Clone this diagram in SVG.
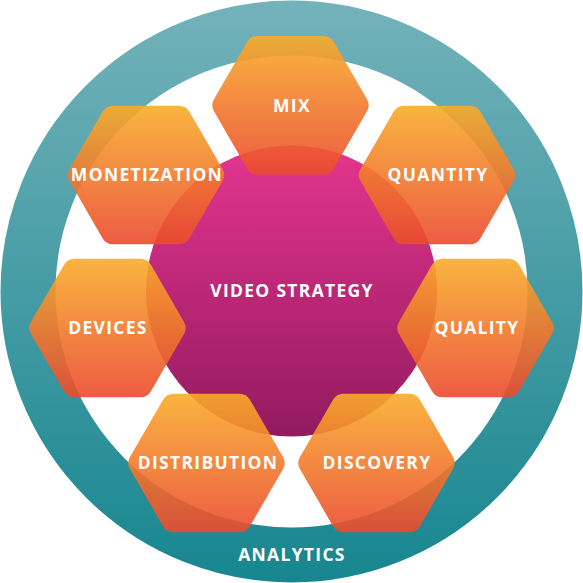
<svg xmlns="http://www.w3.org/2000/svg" xmlns:xlink="http://www.w3.org/1999/xlink" width="583" height="583" viewBox="0 0 583 583">
<defs>
<linearGradient id="ringG" gradientUnits="userSpaceOnUse" x1="0" y1="0" x2="0" y2="583">
<stop offset="0" stop-color="#74B2BA"/>
<stop offset="1" stop-color="#17868F"/>
</linearGradient>
<linearGradient id="coreG" x1="0" y1="0" x2="0" y2="1">
<stop offset="0" stop-color="#E4358F"/>
<stop offset="1" stop-color="#931A5E"/>
</linearGradient>
<linearGradient id="hexG" x1="0" y1="0" x2="0" y2="1">
<stop offset="0" stop-color="#F9AC2A"/>
<stop offset="1" stop-color="#EB4A2F"/>
</linearGradient>
<path id="hex" d="M-33.07,-69.28 H33.07 A12,12 0 0 1 43.46,-63.28 L76.54,-6 A12,12 0 0 1 76.54,6 L43.46,63.28 A12,12 0 0 1 33.07,69.28 H-33.07 A12,12 0 0 1 -43.46,63.28 L-76.54,6 A12,12 0 0 1 -76.54,-6 L-43.46,-63.28 A12,12 0 0 1 -33.07,-69.28 Z"/>
</defs>
<style>
.hex{fill:url(#hexG);opacity:0.9}
.lbl{font-family:"Open Sans","Liberation Sans",sans-serif;font-weight:700;font-size:17.5px;fill:#FFFFFF;text-anchor:middle;letter-spacing:1.3px}
</style>
<g id="analytics">
<circle cx="291.5" cy="291.5" r="263.5" fill="none" stroke="url(#ringG)" stroke-width="55"/>
<text class="lbl" x="292" y="561">ANALYTICS</text>
</g>
<g id="video-strategy">
<circle cx="291.5" cy="291" r="145.5" fill="url(#coreG)"/>
<text class="lbl" x="292" y="297">VIDEO STRATEGY</text>
</g>
<g id="mix"><use xlink:href="#hex" class="hex" x="290.5" y="105.3"/><text class="lbl" x="292" y="111.5">MIX</text></g>
<g id="quantity"><use xlink:href="#hex" class="hex" x="437" y="175"/><text class="lbl" x="438" y="181">QUANTITY</text></g>
<g id="quality"><use xlink:href="#hex" class="hex" x="475.5" y="328"/><text class="lbl" x="477" y="334">QUALITY</text></g>
<g id="discovery"><use xlink:href="#hex" class="hex" x="376.5" y="463"/><text class="lbl" x="377" y="469">DISCOVERY</text></g>
<g id="distribution"><use xlink:href="#hex" class="hex" x="206.5" y="463"/><text class="lbl" x="208" y="469">DISTRIBUTION</text></g>
<g id="devices"><use xlink:href="#hex" class="hex" x="107.5" y="328"/><text class="lbl" x="108" y="334">DEVICES</text></g>
<g id="monetization"><use xlink:href="#hex" class="hex" x="146" y="175"/><text class="lbl" x="147" y="181">MONETIZATION</text></g>
<g id="connectors"/>
</svg>
